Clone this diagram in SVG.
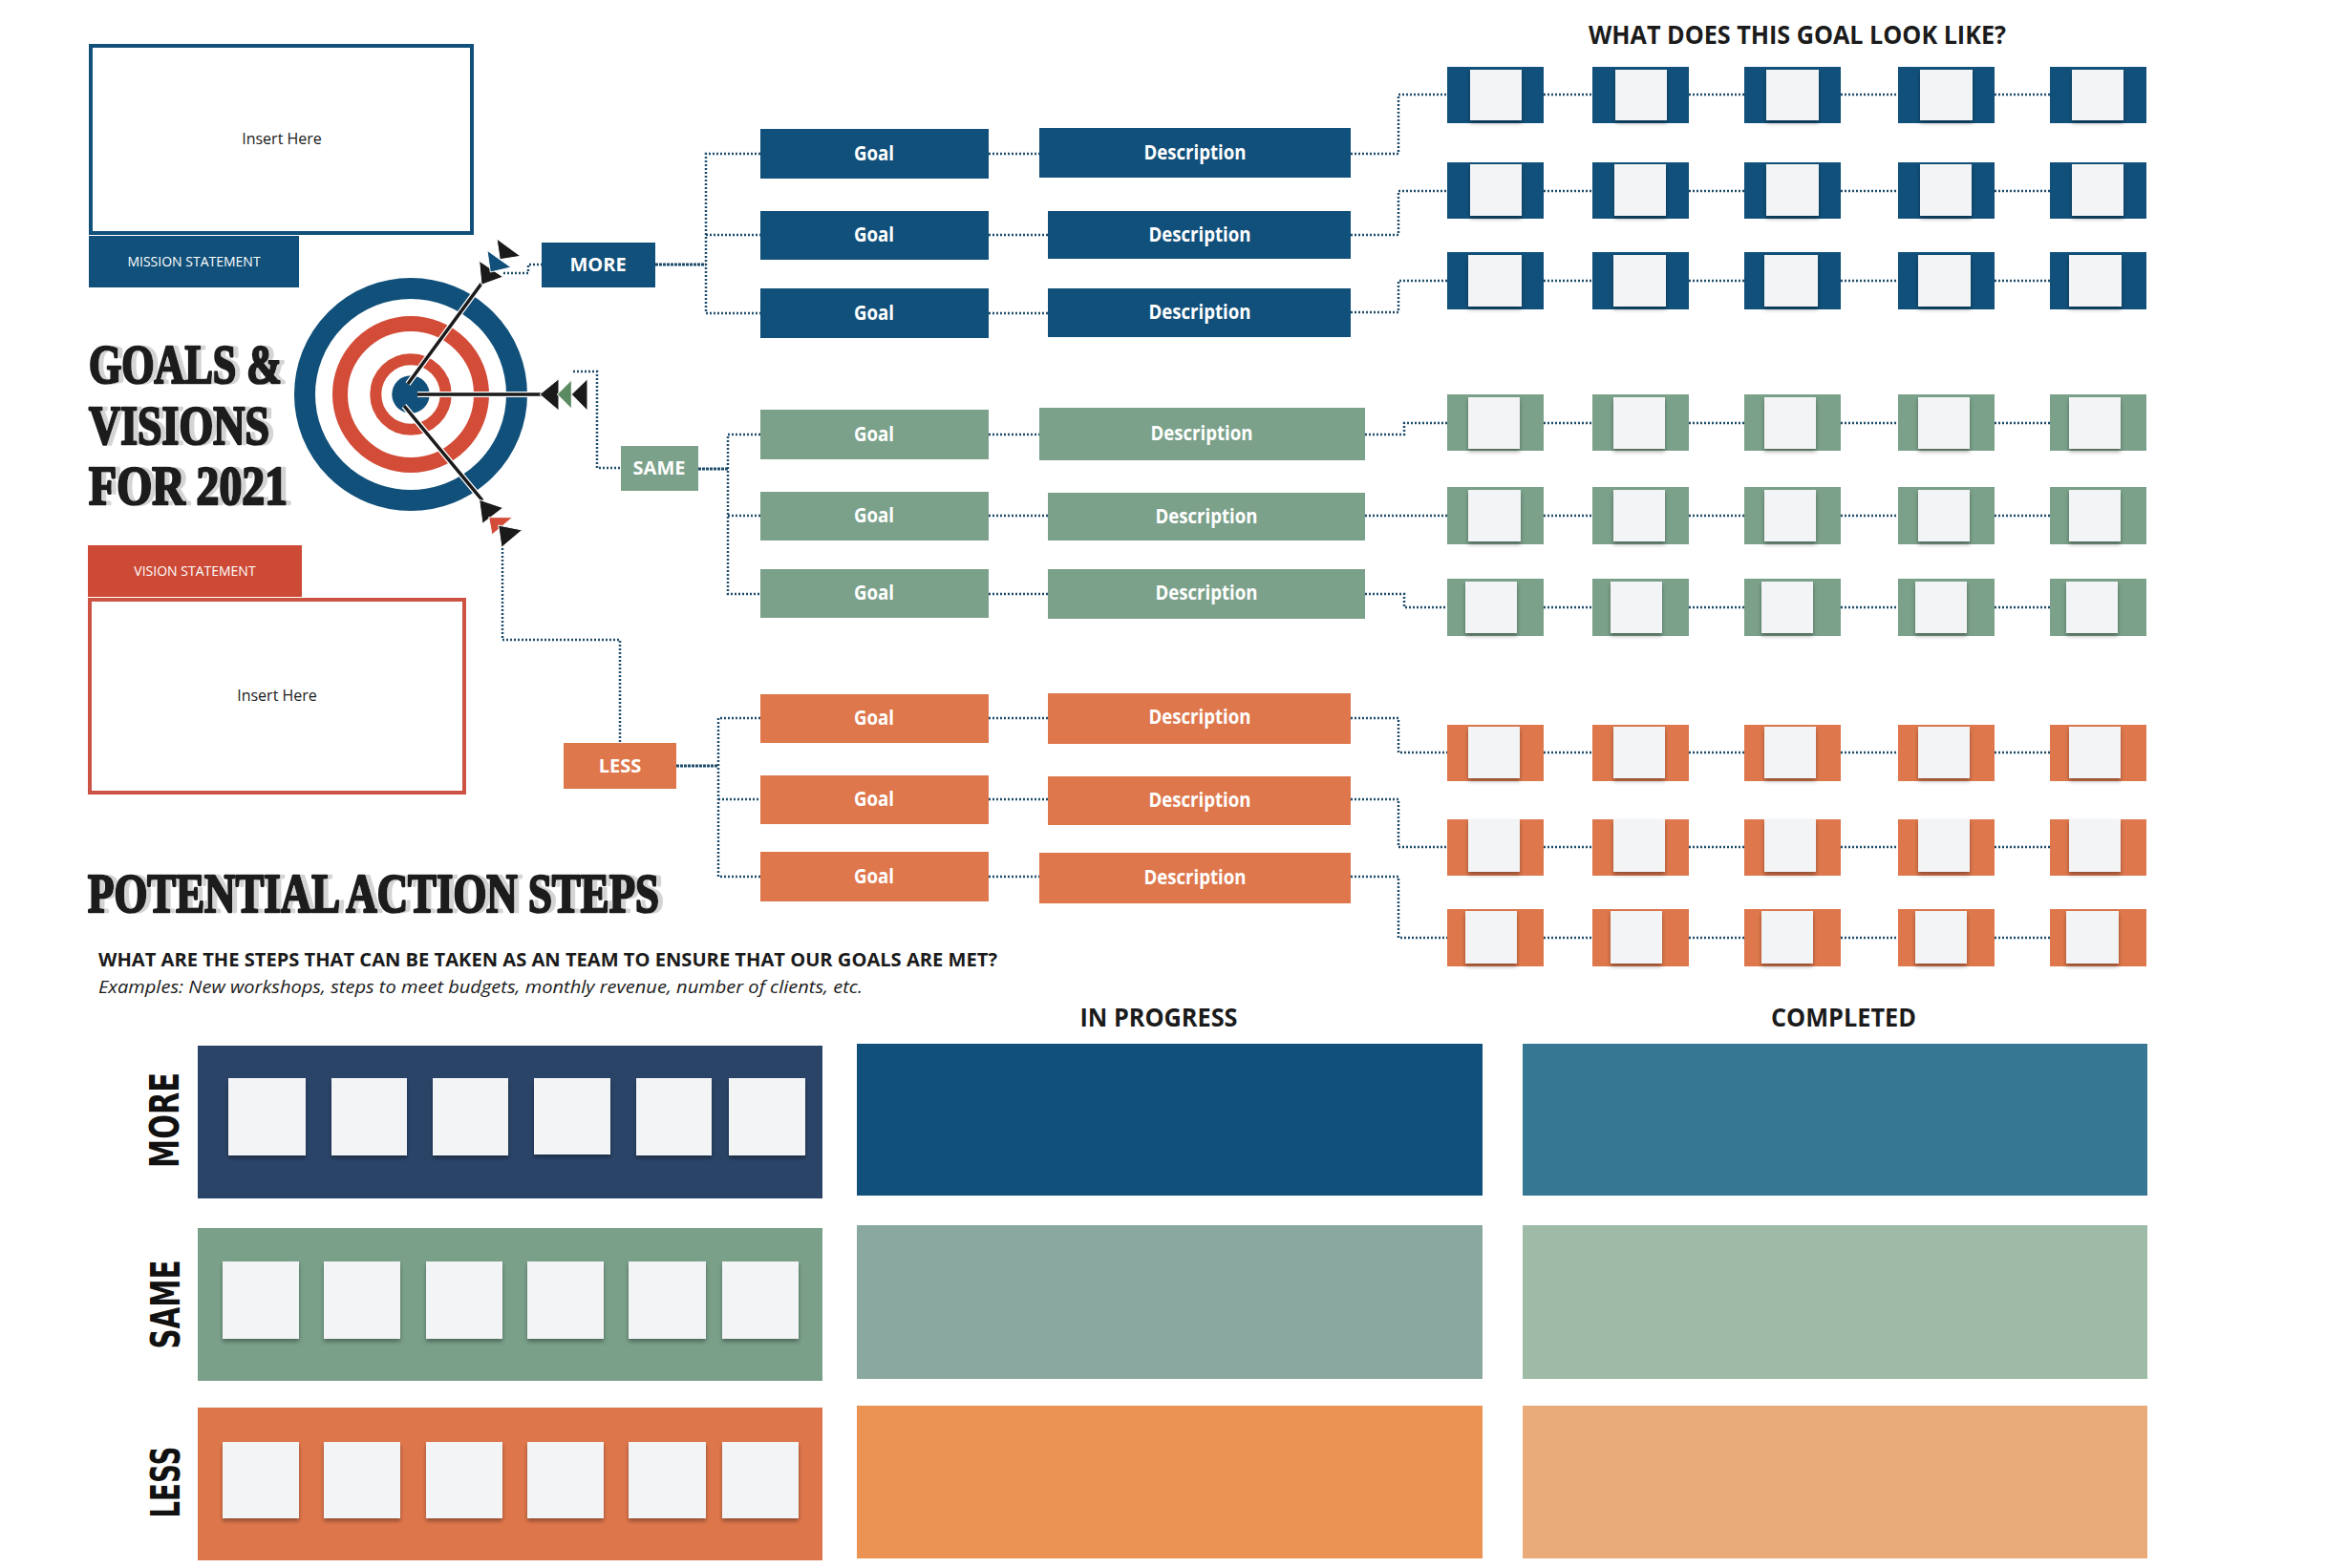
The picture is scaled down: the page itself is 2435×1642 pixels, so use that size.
<svg xmlns="http://www.w3.org/2000/svg" width="2435" height="1642" viewBox="0 0 2435 1642">
<defs>
<style>
.blue{fill:#11507a}
.green{fill:#7ba18a}
.orange{fill:#de774c}
.paper{fill:#f3f4f6;filter:url(#sh)}
.lbl{font-family:"Open Sans","Liberation Sans",sans-serif;font-weight:700;fill:#ffffff;text-anchor:middle}
.g{font-size:22px}
.cat{font-size:20px}
.small{font-family:"Open Sans","Liberation Sans",sans-serif;font-size:14px;fill:#ffffff;text-anchor:middle}
.ins{font-family:"Open Sans","Liberation Sans",sans-serif;font-size:16px;fill:#1a1a1a;text-anchor:middle}
.title{font-family:"Liberation Serif",serif;font-weight:700;font-size:56px;fill:#1b1b1b;stroke:#1b1b1b;stroke-width:2.6;stroke-linejoin:round;filter:url(#tsh)}
.head{font-family:"Open Sans","Liberation Sans",sans-serif;font-weight:700;fill:#1b1b1b}
.rot{font-family:"DejaVu Sans","Liberation Sans",sans-serif;font-weight:700;font-size:42px;fill:#111111;text-anchor:middle}
.dot{fill:none;stroke:#1e4c6c;stroke-width:2.5;stroke-dasharray:2 2}
.trunk{fill:none;stroke:#1e4c6c;stroke-width:3;stroke-dasharray:3 1}
</style>
<filter id="sh" x="-20%" y="-20%" width="140%" height="150%">
<feDropShadow dx="0" dy="3" stdDeviation="2" flood-color="#000000" flood-opacity="0.35"/>
</filter>
<filter id="tsh" x="-5%" y="-10%" width="115%" height="130%">
<feFlood flood-color="#d4d4d4" result="f"/>
<feComposite in="f" in2="SourceAlpha" operator="in" result="s"/>
<feOffset in="s" dx="5" dy="0" result="o"/>
<feMerge><feMergeNode in="o"/><feMergeNode in="SourceGraphic"/></feMerge>
</filter>
</defs>
<rect width="2435" height="1642" fill="#ffffff"/>

<!-- connectors -->
<g id="connectors">
<polyline class="dot" points="527,286 553,286 553,277 567,277"/>
<polyline class="dot" points="600,389 625,389 625,490 650,490"/>
<polyline class="dot" points="526,558 526,670 649,670 649,778"/>
<line class="trunk" x1="686" y1="277" x2="739" y2="277"/>
<polyline class="dot" points="796,161 739,161 739,328 796,328"/>
<line class="dot" x1="739" y1="246" x2="796" y2="246"/>
<line class="trunk" x1="731" y1="491" x2="762" y2="491"/>
<polyline class="dot" points="796,455 762,455 762,622 796,622"/>
<line class="dot" x1="762" y1="540" x2="796" y2="540"/>
<line class="trunk" x1="708" y1="802" x2="752" y2="802"/>
<polyline class="dot" points="796,752 752,752 752,918 796,918"/>
<line class="dot" x1="752" y1="837" x2="796" y2="837"/>
<line class="dot" x1="1035" y1="161" x2="1088" y2="161"/>
<line class="dot" x1="1035" y1="246" x2="1097" y2="246"/>
<line class="dot" x1="1035" y1="328" x2="1097" y2="328"/>
<line class="dot" x1="1035" y1="455" x2="1088" y2="455"/>
<line class="dot" x1="1035" y1="540" x2="1097" y2="540"/>
<line class="dot" x1="1035" y1="622" x2="1097" y2="622"/>
<line class="dot" x1="1035" y1="752" x2="1097" y2="752"/>
<line class="dot" x1="1035" y1="837" x2="1097" y2="837"/>
<line class="dot" x1="1035" y1="918" x2="1088" y2="918"/>
<polyline class="dot" points="1414,161 1464,161 1464,99 1515,99"/>
<polyline class="dot" points="1414,246 1464,246 1464,200 1515,200"/>
<polyline class="dot" points="1414,327 1464,327 1464,294 1515,294"/>
<polyline class="dot" points="1429,455 1470,455 1470,443 1515,443"/>
<line class="dot" x1="1429" y1="540" x2="1515" y2="540"/>
<polyline class="dot" points="1429,622 1470,622 1470,636 1515,636"/>
<polyline class="dot" points="1414,752 1464,752 1464,788 1515,788"/>
<polyline class="dot" points="1414,837 1464,837 1464,887 1515,887"/>
<polyline class="dot" points="1414,918 1464,918 1464,982 1515,982"/>
<g id="pic-links">
<path class="dot" d="M1616,99H1667M1768,99H1826M1927,99H1987M2088,99H2146"/>
<path class="dot" d="M1616,200H1667M1768,200H1826M1927,200H1987M2088,200H2146"/>
<path class="dot" d="M1616,294H1667M1768,294H1826M1927,294H1987M2088,294H2146"/>
<path class="dot" d="M1616,443H1667M1768,443H1826M1927,443H1987M2088,443H2146"/>
<path class="dot" d="M1616,540H1667M1768,540H1826M1927,540H1987M2088,540H2146"/>
<path class="dot" d="M1616,636H1667M1768,636H1826M1927,636H1987M2088,636H2146"/>
<path class="dot" d="M1616,788H1667M1768,788H1826M1927,788H1987M2088,788H2146"/>
<path class="dot" d="M1616,887H1667M1768,887H1826M1927,887H1987M2088,887H2146"/>
<path class="dot" d="M1616,982H1667M1768,982H1826M1927,982H1987M2088,982H2146"/>
</g>
</g>

<!-- mission -->
<g id="mission">
<rect x="95" y="48" width="399" height="196" fill="#ffffff" stroke="#11507a" stroke-width="4"/>
<text class="ins" x="295" y="151">Insert Here</text>
<rect class="blue" x="93" y="247" width="220" height="54"/>
<text class="small" x="203" y="279">MISSION STATEMENT</text>
</g>

<!-- vision -->
<g id="vision">
<rect x="92" y="571" width="224" height="54" fill="#cc4a36"/>
<text class="small" x="204" y="603">VISION STATEMENT</text>
<rect x="94" y="628" width="392" height="202" fill="#ffffff" stroke="#cc5343" stroke-width="4"/>
<text class="ins" x="290" y="734">Insert Here</text>
</g>

<!-- title -->
<g id="title">
<text class="title" x="93" y="401" textLength="202" lengthAdjust="spacingAndGlyphs">GOALS &amp;</text>
<text class="title" x="93" y="465" textLength="189" lengthAdjust="spacingAndGlyphs">VISIONS</text>
<text class="title" x="93" y="528" textLength="208" lengthAdjust="spacingAndGlyphs">FOR 2021</text>
</g>

<!-- target -->
<g id="target">
<circle cx="430" cy="413" r="111" fill="none" stroke="#11507a" stroke-width="22"/>
<circle cx="430" cy="413" r="74" fill="none" stroke="#d24c38" stroke-width="16"/>
<circle cx="430" cy="413" r="36.7" fill="none" stroke="#d24c38" stroke-width="12"/>
<circle cx="430" cy="413" r="19.7" fill="#11507a"/>
<g id="arrow-more">
<line x1="427" y1="402" x2="504" y2="297" stroke="#ffffff" stroke-width="6"/>
<line x1="427" y1="402" x2="504" y2="297" stroke="#1a1a1a" stroke-width="3.5"/>
<polygon points="501.7,273.3 504,298.3 526.7,290" fill="#1a1a1a" stroke="#ffffff" stroke-width="1"/>
<polygon points="510,262.3 513.3,285 535,280" fill="#11507a" stroke="#ffffff" stroke-width="1"/>
<polygon points="520,250 523.3,271.7 545,268.3" fill="#1a1a1a" stroke="#ffffff" stroke-width="1"/>
</g>
<g id="arrow-same">
<line x1="437" y1="413" x2="567" y2="413" stroke="#ffffff" stroke-width="6"/>
<line x1="437" y1="413" x2="567" y2="413" stroke="#1a1a1a" stroke-width="3.5"/>
<polygon points="565,413 585,396.7 585,430" fill="#1a1a1a" stroke="#ffffff" stroke-width="1"/>
<polygon points="583.3,413 598.3,398 598.3,428" fill="#5b8a62" stroke="#ffffff" stroke-width="1"/>
<polygon points="598.3,413 615,396.7 615,430" fill="#1a1a1a" stroke="#ffffff" stroke-width="1"/>
</g>
<g id="arrow-less">
<line x1="423" y1="425" x2="505" y2="524" stroke="#ffffff" stroke-width="6"/>
<line x1="423" y1="425" x2="505" y2="524" stroke="#1a1a1a" stroke-width="3.5"/>
<polygon points="501.7,523.3 526.7,531.7 505,548.3" fill="#1a1a1a" stroke="#ffffff" stroke-width="1"/>
<polygon points="511.7,541.7 536.7,541.7 515,560" fill="#d24c38" stroke="#ffffff" stroke-width="1"/>
<polygon points="521.7,550 546.7,555 525,573.3" fill="#1a1a1a" stroke="#ffffff" stroke-width="1"/>
</g>
</g>

<!-- categories -->
<g id="cat-more"><rect class="blue" x="567" y="254" width="119" height="47"/><text class="lbl cat" x="626" y="284">MORE</text></g>
<g id="cat-same"><rect class="green" x="650" y="467" width="81" height="47"/><text class="lbl cat" x="690" y="497">SAME</text></g>
<g id="cat-less"><rect class="orange" x="590" y="778" width="118" height="48"/><text class="lbl cat" x="649" y="809">LESS</text></g>

<!-- goals & descriptions -->
<g id="goal-more-1"><rect class="blue" x="796" y="135" width="239" height="52"/><text class="lbl g" x="915" y="168" textLength="42" lengthAdjust="spacingAndGlyphs">Goal</text></g>
<g id="desc-more-1"><rect class="blue" x="1088" y="134" width="326" height="52"/><text class="lbl g" x="1251" y="167" textLength="107" lengthAdjust="spacingAndGlyphs">Description</text></g>
<g id="goal-more-2"><rect class="blue" x="796" y="221" width="239" height="51"/><text class="lbl g" x="915" y="253" textLength="42" lengthAdjust="spacingAndGlyphs">Goal</text></g>
<g id="desc-more-2"><rect class="blue" x="1097" y="221" width="317" height="50"/><text class="lbl g" x="1256" y="253" textLength="107" lengthAdjust="spacingAndGlyphs">Description</text></g>
<g id="goal-more-3"><rect class="blue" x="796" y="302" width="239" height="52"/><text class="lbl g" x="915" y="335" textLength="42" lengthAdjust="spacingAndGlyphs">Goal</text></g>
<g id="desc-more-3"><rect class="blue" x="1097" y="302" width="317" height="51"/><text class="lbl g" x="1256" y="334" textLength="107" lengthAdjust="spacingAndGlyphs">Description</text></g>

<g id="goal-same-1"><rect class="green" x="796" y="429" width="239" height="52"/><text class="lbl g" x="915" y="462" textLength="42" lengthAdjust="spacingAndGlyphs">Goal</text></g>
<g id="desc-same-1"><rect class="green" x="1088" y="427" width="341" height="55"/><text class="lbl g" x="1258" y="461" textLength="107" lengthAdjust="spacingAndGlyphs">Description</text></g>
<g id="goal-same-2"><rect class="green" x="796" y="515" width="239" height="51"/><text class="lbl g" x="915" y="547" textLength="42" lengthAdjust="spacingAndGlyphs">Goal</text></g>
<g id="desc-same-2"><rect class="green" x="1097" y="516" width="332" height="50"/><text class="lbl g" x="1263" y="548" textLength="107" lengthAdjust="spacingAndGlyphs">Description</text></g>
<g id="goal-same-3"><rect class="green" x="796" y="596" width="239" height="51"/><text class="lbl g" x="915" y="628" textLength="42" lengthAdjust="spacingAndGlyphs">Goal</text></g>
<g id="desc-same-3"><rect class="green" x="1097" y="596" width="332" height="52"/><text class="lbl g" x="1263" y="628" textLength="107" lengthAdjust="spacingAndGlyphs">Description</text></g>

<g id="goal-less-1"><rect class="orange" x="796" y="727" width="239" height="51"/><text class="lbl g" x="915" y="759" textLength="42" lengthAdjust="spacingAndGlyphs">Goal</text></g>
<g id="desc-less-1"><rect class="orange" x="1097" y="726" width="317" height="53"/><text class="lbl g" x="1256" y="758" textLength="107" lengthAdjust="spacingAndGlyphs">Description</text></g>
<g id="goal-less-2"><rect class="orange" x="796" y="812" width="239" height="51"/><text class="lbl g" x="915" y="844" textLength="42" lengthAdjust="spacingAndGlyphs">Goal</text></g>
<g id="desc-less-2"><rect class="orange" x="1097" y="813" width="317" height="51"/><text class="lbl g" x="1256" y="845" textLength="107" lengthAdjust="spacingAndGlyphs">Description</text></g>
<g id="goal-less-3"><rect class="orange" x="796" y="892" width="239" height="52"/><text class="lbl g" x="915" y="925" textLength="42" lengthAdjust="spacingAndGlyphs">Goal</text></g>
<g id="desc-less-3"><rect class="orange" x="1088" y="893" width="326" height="53"/><text class="lbl g" x="1251" y="926" textLength="107" lengthAdjust="spacingAndGlyphs">Description</text></g>

<!-- what does this goal look like -->
<text class="head" x="1663" y="46" font-size="26" textLength="437" lengthAdjust="spacingAndGlyphs">WHAT DOES THIS GOAL LOOK LIKE?</text>

<g id="pictures">
<g id="pics-more-1">
<rect class="blue" x="1515" y="70" width="101" height="59"/><rect class="paper" x="1539" y="73" width="54" height="53"/>
<rect class="blue" x="1667" y="70" width="101" height="59"/><rect class="paper" x="1691" y="73" width="54" height="53"/>
<rect class="blue" x="1826" y="70" width="101" height="59"/><rect class="paper" x="1849" y="73" width="55" height="53"/>
<rect class="blue" x="1987" y="70" width="101" height="59"/><rect class="paper" x="2010" y="73" width="55" height="53"/>
<rect class="blue" x="2146" y="70" width="101" height="59"/><rect class="paper" x="2169" y="73" width="54" height="53"/>
</g>
<g id="pics-more-2">
<rect class="blue" x="1515" y="170" width="101" height="59"/><rect class="paper" x="1539" y="172" width="54" height="54"/>
<rect class="blue" x="1667" y="170" width="101" height="59"/><rect class="paper" x="1690" y="172" width="54" height="54"/>
<rect class="blue" x="1826" y="170" width="101" height="59"/><rect class="paper" x="1849" y="172" width="55" height="54"/>
<rect class="blue" x="1987" y="170" width="101" height="59"/><rect class="paper" x="2010" y="172" width="54" height="54"/>
<rect class="blue" x="2146" y="170" width="101" height="59"/><rect class="paper" x="2169" y="172" width="54" height="54"/>
</g>
<g id="pics-more-3">
<rect class="blue" x="1515" y="264" width="101" height="60"/><rect class="paper" x="1537" y="267" width="56" height="54"/>
<rect class="blue" x="1667" y="264" width="101" height="60"/><rect class="paper" x="1689" y="267" width="55" height="54"/>
<rect class="blue" x="1826" y="264" width="101" height="60"/><rect class="paper" x="1847" y="267" width="56" height="54"/>
<rect class="blue" x="1987" y="264" width="101" height="60"/><rect class="paper" x="2008" y="267" width="55" height="54"/>
<rect class="blue" x="2146" y="264" width="101" height="60"/><rect class="paper" x="2166" y="267" width="55" height="54"/>
</g>
<g id="pics-same-1">
<rect class="green" x="1515" y="413" width="101" height="59"/><rect class="paper" x="1537" y="416" width="54" height="54"/>
<rect class="green" x="1667" y="413" width="101" height="59"/><rect class="paper" x="1689" y="416" width="54" height="54"/>
<rect class="green" x="1826" y="413" width="101" height="59"/><rect class="paper" x="1847" y="416" width="54" height="54"/>
<rect class="green" x="1987" y="413" width="101" height="59"/><rect class="paper" x="2008" y="416" width="54" height="54"/>
<rect class="green" x="2146" y="413" width="101" height="59"/><rect class="paper" x="2166" y="416" width="54" height="54"/>
</g>
<g id="pics-same-2">
<rect class="green" x="1515" y="510" width="101" height="60"/><rect class="paper" x="1537" y="513" width="55" height="54"/>
<rect class="green" x="1667" y="510" width="101" height="60"/><rect class="paper" x="1689" y="513" width="54" height="54"/>
<rect class="green" x="1826" y="510" width="101" height="60"/><rect class="paper" x="1847" y="513" width="54" height="54"/>
<rect class="green" x="1987" y="510" width="101" height="60"/><rect class="paper" x="2008" y="513" width="54" height="54"/>
<rect class="green" x="2146" y="510" width="101" height="60"/><rect class="paper" x="2166" y="513" width="54" height="54"/>
</g>
<g id="pics-same-3">
<rect class="green" x="1515" y="606" width="101" height="60"/><rect class="paper" x="1534" y="609" width="54" height="54"/>
<rect class="green" x="1667" y="606" width="101" height="60"/><rect class="paper" x="1686" y="609" width="54" height="54"/>
<rect class="green" x="1826" y="606" width="101" height="60"/><rect class="paper" x="1844" y="609" width="54" height="54"/>
<rect class="green" x="1987" y="606" width="101" height="60"/><rect class="paper" x="2005" y="609" width="54" height="54"/>
<rect class="green" x="2146" y="606" width="101" height="60"/><rect class="paper" x="2163" y="609" width="54" height="54"/>
</g>
<g id="pics-less-1">
<rect class="orange" x="1515" y="759" width="101" height="59"/><rect class="paper" x="1537" y="761" width="54" height="54"/>
<rect class="orange" x="1667" y="759" width="101" height="59"/><rect class="paper" x="1689" y="761" width="54" height="54"/>
<rect class="orange" x="1826" y="759" width="101" height="59"/><rect class="paper" x="1847" y="761" width="54" height="54"/>
<rect class="orange" x="1987" y="759" width="101" height="59"/><rect class="paper" x="2008" y="761" width="54" height="54"/>
<rect class="orange" x="2146" y="759" width="101" height="59"/><rect class="paper" x="2166" y="761" width="54" height="54"/>
</g>
<g id="pics-less-2">
<rect class="orange" x="1515" y="858" width="101" height="59"/><rect class="paper" x="1537" y="858" width="54" height="55"/>
<rect class="orange" x="1667" y="858" width="101" height="59"/><rect class="paper" x="1689" y="858" width="54" height="55"/>
<rect class="orange" x="1826" y="858" width="101" height="59"/><rect class="paper" x="1847" y="858" width="54" height="55"/>
<rect class="orange" x="1987" y="858" width="101" height="59"/><rect class="paper" x="2008" y="858" width="54" height="55"/>
<rect class="orange" x="2146" y="858" width="101" height="59"/><rect class="paper" x="2166" y="858" width="54" height="55"/>
</g>
<g id="pics-less-3">
<rect class="orange" x="1515" y="952" width="101" height="60"/><rect class="paper" x="1534" y="954" width="54" height="55"/>
<rect class="orange" x="1667" y="952" width="101" height="60"/><rect class="paper" x="1686" y="954" width="54" height="55"/>
<rect class="orange" x="1826" y="952" width="101" height="60"/><rect class="paper" x="1844" y="954" width="54" height="55"/>
<rect class="orange" x="1987" y="952" width="101" height="60"/><rect class="paper" x="2005" y="954" width="54" height="55"/>
<rect class="orange" x="2146" y="952" width="101" height="60"/><rect class="paper" x="2163" y="954" width="55" height="55"/>
</g>
</g>

<!-- potential action steps -->
<g id="action-heading">
<text class="title" x="92" y="955" font-size="52" textLength="598" lengthAdjust="spacingAndGlyphs">POTENTIAL ACTION STEPS</text>
<text class="head" x="103" y="1012" font-size="20" textLength="941" lengthAdjust="spacingAndGlyphs">WHAT ARE THE STEPS THAT CAN BE TAKEN AS AN TEAM TO ENSURE THAT OUR GOALS ARE MET?</text>
<text x="103" y="1040" font-family="'Open Sans','Liberation Sans',sans-serif" font-style="italic" font-size="19" fill="#1b1b1b" textLength="800" lengthAdjust="spacingAndGlyphs">Examples: New workshops, steps to meet budgets, monthly revenue, number of clients, etc.</text>
<text class="head" x="1213" y="1075" font-size="26" text-anchor="middle" textLength="165" lengthAdjust="spacingAndGlyphs">IN PROGRESS</text>
<text class="head" x="1930" y="1075" font-size="26" text-anchor="middle" textLength="152" lengthAdjust="spacingAndGlyphs">COMPLETED</text>
</g>

<g id="row-more">
<text class="rot" transform="translate(187,1173) rotate(-90)" textLength="100" lengthAdjust="spacingAndGlyphs">MORE</text>
<rect x="207" y="1095" width="654" height="160" fill="#2a4468"/>
<rect class="paper" x="239" y="1129" width="81" height="81"/>
<rect class="paper" x="347" y="1129" width="79" height="81"/>
<rect class="paper" x="453" y="1129" width="79" height="81"/>
<rect class="paper" x="559" y="1129" width="80" height="80"/>
<rect class="paper" x="666" y="1129" width="79" height="81"/>
<rect class="paper" x="763" y="1129" width="80" height="81"/>
<rect x="897" y="1093" width="655" height="159" fill="#11507a"/>
<rect x="1594" y="1093" width="654" height="159" fill="#367894"/>
</g>
<g id="row-same">
<text class="rot" transform="translate(188,1366) rotate(-90)" textLength="93" lengthAdjust="spacingAndGlyphs">SAME</text>
<rect x="207" y="1286" width="654" height="160" fill="#7aa08a"/>
<rect class="paper" x="233" y="1321" width="80" height="81"/>
<rect class="paper" x="339" y="1321" width="80" height="81"/>
<rect class="paper" x="446" y="1321" width="80" height="81"/>
<rect class="paper" x="552" y="1321" width="80" height="81"/>
<rect class="paper" x="658" y="1321" width="81" height="81"/>
<rect class="paper" x="756" y="1321" width="80" height="81"/>
<rect x="897" y="1283" width="655" height="161" fill="#8aa8a0"/>
<rect x="1594" y="1283" width="654" height="161" fill="#9dbba6"/>
</g>
<g id="row-less">
<text class="rot" transform="translate(188,1552) rotate(-90)" textLength="75" lengthAdjust="spacingAndGlyphs">LESS</text>
<rect x="207" y="1474" width="654" height="160" fill="#de764b"/>
<rect class="paper" x="233" y="1510" width="80" height="80"/>
<rect class="paper" x="339" y="1510" width="80" height="80"/>
<rect class="paper" x="446" y="1510" width="80" height="80"/>
<rect class="paper" x="552" y="1510" width="80" height="80"/>
<rect class="paper" x="658" y="1510" width="81" height="80"/>
<rect class="paper" x="756" y="1510" width="80" height="80"/>
<rect x="897" y="1472" width="655" height="160" fill="#ea9355"/>
<rect x="1594" y="1472" width="654" height="160" fill="#eaab7a"/>
</g>
</svg>
